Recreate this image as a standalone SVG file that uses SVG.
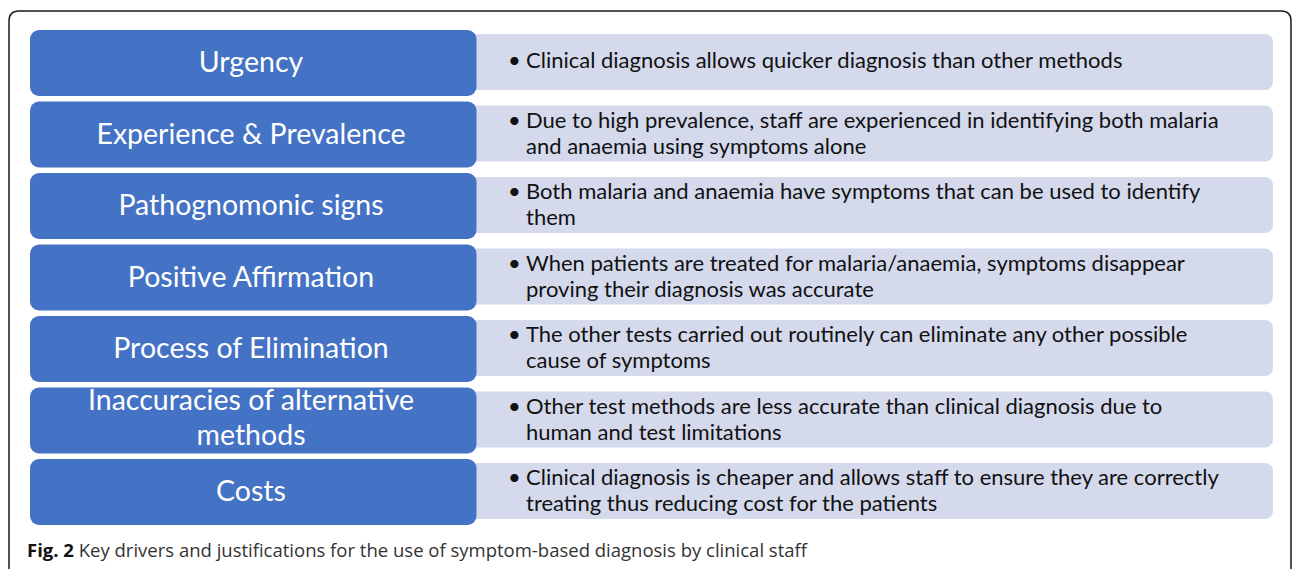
<svg xmlns="http://www.w3.org/2000/svg" width="1292" height="569" viewBox="0 0 1292 569">
  <style>
    .frame { fill: none; stroke: #1a1a1a; stroke-width: 1.5; }
    .key { fill: #4472C4; }
    .desc { fill: #D4D9EC; }
    .kt { font-family: Lato, "Liberation Sans", sans-serif; font-size: 28.5px; fill: #ffffff; text-anchor: middle; }
    .dt { font-family: Lato, "Liberation Sans", sans-serif; font-size: 22px; fill: #111111; }
    .cap { font-family: "Open Sans", "Liberation Sans", sans-serif; font-size: 18.5px; fill: #333333; }
    .capb { font-weight: bold; fill: #111111; }
  </style>

  <!-- panel border, open at the bottom -->
  <path class="frame" d="M9,570 V21 Q9,11 19,11 H1281 Q1291,11 1291,21 V570"/>

  <g id="connectors"></g>

  <g id="row-urgency">
    <rect class="desc" x="460" y="34" width="813" height="56" rx="8"/>
    <rect class="key" x="30" y="30" width="446.5" height="66" rx="9"/>
    <text class="kt" x="251" y="72">Urgency</text>
    <text class="dt" y="68"><tspan x="508">•</tspan><tspan x="526">Clinical diagnosis allows quicker diagnosis than other methods</tspan></text>
  </g>

  <g id="row-experience">
    <rect class="desc" x="460" y="105.5" width="813" height="56" rx="8"/>
    <rect class="key" x="30" y="101.5" width="446.5" height="66" rx="9"/>
    <text class="kt" x="251" y="143.5">Experience &amp; Prevalence</text>
    <text class="dt" y="127.5"><tspan x="508">•</tspan><tspan x="526">Due to high prevalence, staff are experienced in identifying both malaria</tspan></text>
    <text class="dt" x="526" y="153.5">and anaemia using symptoms alone</text>
  </g>

  <g id="row-pathognomonic">
    <rect class="desc" x="460" y="177" width="813" height="56" rx="8"/>
    <rect class="key" x="30" y="173" width="446.5" height="66" rx="9"/>
    <text class="kt" x="251" y="215">Pathognomonic signs</text>
    <text class="dt" y="199"><tspan x="508">•</tspan><tspan x="526">Both malaria and anaemia have symptoms that can be used to identify</tspan></text>
    <text class="dt" x="526" y="225">them</text>
  </g>

  <g id="row-affirmation">
    <rect class="desc" x="460" y="248.5" width="813" height="56" rx="8"/>
    <rect class="key" x="30" y="244.5" width="446.5" height="66" rx="9"/>
    <text class="kt" x="251" y="286.5">Positive Affirmation</text>
    <text class="dt" y="270.5"><tspan x="508">•</tspan><tspan x="526">When patients are treated for malaria/anaemia, symptoms disappear</tspan></text>
    <text class="dt" x="526" y="296.5">proving their diagnosis was accurate</text>
  </g>

  <g id="row-elimination">
    <rect class="desc" x="460" y="320" width="813" height="56" rx="8"/>
    <rect class="key" x="30" y="316" width="446.5" height="66" rx="9"/>
    <text class="kt" x="251" y="358">Process of Elimination</text>
    <text class="dt" y="342"><tspan x="508">•</tspan><tspan x="526">The other tests carried out routinely can eliminate any other possible</tspan></text>
    <text class="dt" x="526" y="368">cause of symptoms</text>
  </g>

  <g id="row-inaccuracies">
    <rect class="desc" x="460" y="391.5" width="813" height="56" rx="8"/>
    <rect class="key" x="30" y="387.5" width="446.5" height="66" rx="9"/>
    <text class="kt" x="251" y="410">Inaccuracies of alternative</text>
    <text class="kt" x="251" y="445">methods</text>
    <text class="dt" y="413.5"><tspan x="508">•</tspan><tspan x="526">Other test methods are less accurate than clinical diagnosis due to</tspan></text>
    <text class="dt" x="526" y="439.5">human and test limitations</text>
  </g>

  <g id="row-costs">
    <rect class="desc" x="460" y="463" width="813" height="56" rx="8"/>
    <rect class="key" x="30" y="459" width="446.5" height="66" rx="9"/>
    <text class="kt" x="251" y="501">Costs</text>
    <text class="dt" y="485"><tspan x="508">•</tspan><tspan x="526">Clinical diagnosis is cheaper and allows staff to ensure they are correctly</tspan></text>
    <text class="dt" x="526" y="511">treating thus reducing cost for the patients</text>
  </g>

  <text class="cap" x="27" y="557"><tspan class="capb">Fig. 2</tspan> Key drivers and justifications for the use of symptom-based diagnosis by clinical staff</text>
</svg>
